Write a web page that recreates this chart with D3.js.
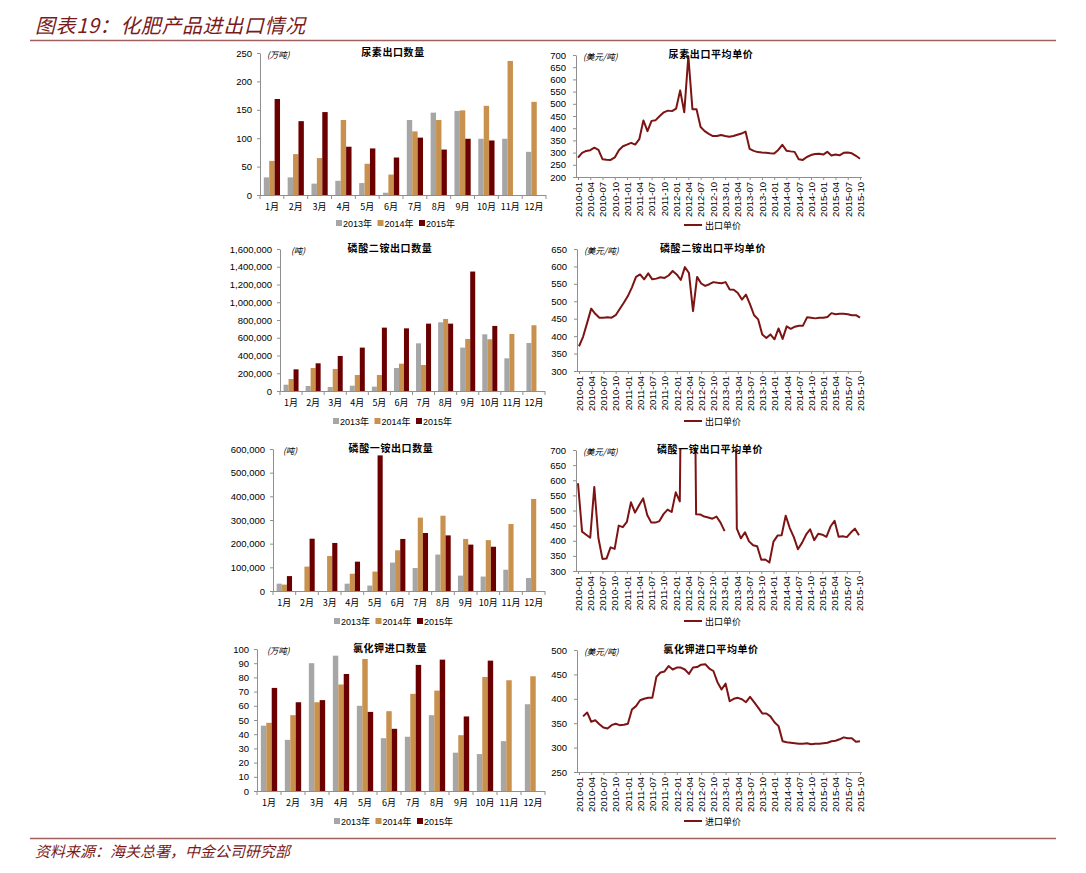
<!DOCTYPE html>
<html><head><meta charset="utf-8">
<script src="https://cdn.jsdelivr.net/npm/d3@7"></script>
<style>body{margin:0;background:#fff} svg{display:block}</style>
</head><body><svg id="c" width="1086" height="873"></svg>
<script>
// ---------- data ----------
const monthCats = ["1月","2月","3月","4月","5月","6月","7月","8月","9月","10月","11月","12月"];
const yearNames = ["2013年","2014年","2015年"];

const ureaQty2013 = [31,31,20,25,21,4,132,145,148,99,99,76];
const ureaQty2014 = [60,72,65,132,55,36,112,132,149,157,236,164];
const ureaQty2015 = [169,130,146,85,82,66,101,80,99,96,null,null];

const dapQty2013 = [71000,56000,45000,60000,49000,259000,537000,774000,489000,639000,368000,541000];
const dapQty2014 = [135000,259000,248000,180000,180000,308000,293000,812000,586000,583000,643000,741000];
const dapQty2015 = [244000,312000,395000,489000,714000,706000,759000,759000,1346000,733000,null,null];

const mapQty2013 = [31000,null,null,31000,23000,120000,97000,154000,65000,61000,90000,55000];
const mapQty2014 = [27000,103000,148000,73000,82000,172000,310000,318000,220000,215000,283000,389000];
const mapQty2015 = [63000,221000,203000,124000,573000,220000,245000,235000,196000,187000,null,null];

const kclQty2013 = [46,36,90,95.3,60,37.2,38.2,53.4,27,26,35.1,61.1];
const kclQty2014 = [48,53.4,62.5,75,93,56.2,68.4,70.7,39.3,80.3,78,80.8];
const kclQty2015 = [72.6,62.5,64,82.4,55.7,43.8,88.8,92.5,52.5,91.8,null,null];

// monthly categories 2010-01 .. 2015-10
const priceMonths = d3.range(70).map(i => `${2010 + Math.floor(i / 12)}-${String(i % 12 + 1).padStart(2, "0")}`);
const priceTickLabels = priceMonths.filter((m, i) => i % 3 === 0);

const ureaPrice = [279,299,307,310,320,311,273,271,270,280,
  310,326,333,340,333,355,432,388,430,433,
  450,465,472,470,480,555,465,695,478,478,
  405,388,377,368,368,372,368,365,368,373,
  378,386,315,307,302,300,299,297,296,311,
  332,308,305,303,273,270,282,290,294,295,
  292,303,288,292,289,299,300,297,287,275];

const dapPrice = [371,398,438,479,464,453,453,454,453,460,
  478,496,515,540,570,577,563,580,563,565,
  569,567,574,587,577,561,598,581,472,570,
  551,544,549,555,553,552,555,534,533,524,
  505,519,491,460,448,405,395,405,391,422,
  392,428,421,427,430,430,454,453,451,453,
  453,455,466,463,464,464,463,460,460,453];

const mapPrice = [590,430,420,410,578,410,340,341,378,373,
  450,445,462,527,493,517,540,485,460,460,
  465,488,503,495,560,530,1850,1700,1900,488,
  487,480,477,473,480,460,432,null,1900,440,
  408,428,398,385,382,337,338,328,397,417,
  418,483,442,412,372,393,420,438,402,423,
  420,413,447,466,413,415,412,427,440,418];

const kclPrice = [null,364,372,353,356,348,341,339,346,349,
  346,347,349,378,385,397,400,402,402,445,
  454,456,467,460,464,464,460,451,464,465,
  470,471,462,457,434,419,431,395,400,402,
  399,393,404,393,382,370,370,364,352,344,
  313,311,310,309,308,308,309,307,308,308,
  309,310,313,314,317,321,319,319,312,313];

// ---------- styles ----------
const barColors = ["#a6a6a6", "#c8914d", "#6b0000"];
const lineColor = "#7d1414";
const axisColor = "#8f8f8f";
const titleRed = "#7a1a1a";
const fontNum = "'Liberation Sans', Arial, sans-serif";
const fontCJK = "'Noto Sans CJK SC', sans-serif";

const svg = d3.select("#c");

// page header / footer
svg.append("text").attr("x", 35).attr("y", 33)
  .attr("font-family", fontCJK).attr("font-size", 20).attr("font-style", "italic")
  .attr("letter-spacing", 0.6)
  .attr("fill", titleRed).text("图表19：化肥产品进出口情况");
svg.append("line").attr("x1", 30).attr("x2", 1056).attr("y1", 40.5).attr("y2", 40.5)
  .attr("stroke", "#a06060").attr("stroke-width", 1.5);
svg.append("line").attr("x1", 30).attr("x2", 1056).attr("y1", 838.5).attr("y2", 838.5)
  .attr("stroke", "#a06060").attr("stroke-width", 1.5);
svg.append("text").attr("x", 35).attr("y", 857)
  .attr("font-family", fontCJK).attr("font-size", 15).attr("font-style", "italic")
  .attr("fill", titleRed).text("资料来源：海关总署，中金公司研究部");

function styleAxis(g) {
  g.selectAll("path,line").attr("stroke", axisColor);
  g.selectAll("text").attr("font-family", fontNum).attr("font-size", 9.5).attr("fill", "#000");
}

function barChart(o) {
  const g = svg.append("g");
  const step = (o.right - o.left) / monthCats.length;
  const x0 = d3.scaleBand().domain(monthCats).range([o.left, o.right]).paddingInner(0.32).paddingOuter(0.16);
  const x1 = d3.scaleBand().domain(d3.range(o.series.length)).range([0, x0.bandwidth()]);
  const y = d3.scaleLinear().domain([0, o.max]).range([o.bottom, o.top]);

  // bars
  o.series.forEach((s, k) => {
    g.append("g").selectAll("rect").data(s.map((v, i) => ({ v, i })).filter(d => d.v != null))
      .join("rect")
      .attr("x", d => x0(monthCats[d.i]) + x1(k))
      .attr("width", x1.bandwidth())
      .attr("y", d => y(d.v))
      .attr("height", d => y(0) - y(d.v))
      .attr("fill", barColors[k]);
  });

  // y axis
  const ya = g.append("g").attr("transform", `translate(${o.left},0)`)
    .call(d3.axisLeft(y).tickValues(d3.range(0, o.max + o.step / 2, o.step))
      .tickSize(3).tickPadding(5).tickFormat(o.fmt).tickSizeOuter(0));
  styleAxis(ya);

  // x axis
  g.append("line").attr("x1", o.left).attr("x2", o.right).attr("y1", o.bottom + 0.5).attr("y2", o.bottom + 0.5)
    .attr("stroke", axisColor);
  g.append("g").selectAll("line").data(d3.range(monthCats.length + 1)).join("line")
    .attr("x1", i => o.left + i * step).attr("x2", i => o.left + i * step)
    .attr("y1", o.bottom).attr("y2", o.bottom + 4).attr("stroke", axisColor);
  g.append("g").selectAll("text").data(monthCats).join("text")
    .attr("x", d => x0(d) + x0.bandwidth() / 2).attr("y", o.bottom + 15)
    .attr("text-anchor", "middle").attr("font-family", fontCJK).attr("font-size", 9)
    .text(d => d);

  // title & unit
  g.append("text").attr("x", o.titleX).attr("y", o.top + 3).attr("text-anchor", "middle")
    .attr("font-family", fontCJK).attr("font-size", 10).attr("font-weight", "bold")
    .attr("letter-spacing", 0.6).text(o.title);
  g.append("text").attr("x", o.unitX).attr("y", o.top + 5)
    .attr("font-family", fontCJK).attr("font-size", 8.5).attr("font-style", "italic").text(o.unit);

  // legend
  const ly = o.bottom + o.legendDy;
  yearNames.forEach((n, k) => {
    const lx = o.legendX + k * 41.5;
    g.append("rect").attr("x", lx).attr("y", ly - 3).attr("width", 6).attr("height", 6).attr("fill", barColors[k]);
    g.append("text").attr("x", lx + 7).attr("y", ly + 3.5)
      .attr("font-family", fontNum + ",'Noto Sans CJK SC'").attr("font-size", 9).text(n);
  });
}

let clipId = 0;
function lineChart(o) {
  const g = svg.append("g");
  const x = d3.scalePoint().domain(priceMonths).range([o.left + 2, o.right - 2]);
  const y = d3.scaleLinear().domain([o.min, o.max]).range([o.bottom, o.top]);
  const id = "clip" + (clipId++);
  g.append("clipPath").attr("id", id).append("rect")
    .attr("x", o.left).attr("y", o.top - 1).attr("width", o.right - o.left).attr("height", o.bottom - o.top + 1);

  const ya = g.append("g").attr("transform", `translate(${o.left},0)`)
    .call(d3.axisLeft(y).tickValues(d3.range(o.min, o.max + 1, 50)).tickSize(3).tickPadding(7).tickSizeOuter(0));
  styleAxis(ya);

  const xa = g.append("g").attr("transform", `translate(0,${o.bottom})`)
    .call(d3.axisBottom(x).tickValues(priceTickLabels).tickSize(3).tickPadding(4).tickSizeOuter(0));
  xa.select(".domain").attr("d", `M${o.left},0.5H${o.right}`);
  styleAxis(xa);
  xa.selectAll("text").attr("text-anchor", "end").attr("transform", "rotate(-90)")
    .attr("x", -5).attr("y", 0).attr("dy", "0.35em");

  const line = d3.line().defined(d => d != null).x((d, i) => x(priceMonths[i])).y(d => y(d));
  g.append("path").attr("clip-path", `url(#${id})`).attr("d", line(o.values))
    .attr("fill", "none").attr("stroke", lineColor).attr("stroke-width", 2).attr("stroke-linejoin", "round");

  g.append("text").attr("x", o.titleX).attr("y", o.top + 3).attr("text-anchor", "middle")
    .attr("font-family", fontCJK).attr("font-size", 10).attr("font-weight", "bold")
    .attr("letter-spacing", 0.6).text(o.title);
  g.append("text").attr("x", o.left + 7).attr("y", o.top + 5)
    .attr("font-family", fontCJK).attr("font-size", 8.5).attr("font-style", "italic").text("(美元/吨)");

  const ly = o.bottom + o.legendDy;
  g.append("line").attr("x1", 684).attr("x2", 702).attr("y1", ly).attr("y2", ly)
    .attr("stroke", lineColor).attr("stroke-width", 2);
  g.append("text").attr("x", 705).attr("y", ly + 3.5).attr("font-family", fontCJK).attr("font-size", 9)
    .text(o.legend);
}

const fmtComma = d3.format(",");
barChart({ left: 260, right: 546, top: 53, bottom: 195, max: 250, step: 50, fmt: d3.format("d"),
  series: [ureaQty2013, ureaQty2014, ureaQty2015], title: "尿素出口数量", titleX: 393,
  unit: "(万吨)", unitX: 267, legendX: 336, legendDy: 28 });
barChart({ left: 280, right: 545, top: 249, bottom: 391, max: 1600000, step: 200000, fmt: fmtComma,
  series: [dapQty2013, dapQty2014, dapQty2015], title: "磷酸二铵出口数量", titleX: 390,
  unit: "(吨)", unitX: 291, legendX: 333, legendDy: 30 });
barChart({ left: 273, right: 545, top: 449, bottom: 591, max: 600000, step: 100000, fmt: fmtComma,
  series: [mapQty2013, mapQty2014, mapQty2015], title: "磷酸一铵出口数量", titleX: 391,
  unit: "(吨)", unitX: 283, legendX: 334, legendDy: 30 });
barChart({ left: 257, right: 545, top: 649, bottom: 791, max: 100, step: 10, fmt: d3.format("d"),
  series: [kclQty2013, kclQty2014, kclQty2015], title: "氯化钾进口数量", titleX: 390,
  unit: "(万吨)", unitX: 267, legendX: 334, legendDy: 30 });

lineChart({ left: 576, right: 862, top: 55, bottom: 177, min: 200, max: 700, values: ureaPrice,
  title: "尿素出口平均单价", titleX: 711, legend: "出口单价", legendDy: 48 });
lineChart({ left: 577, right: 862, top: 249, bottom: 371, min: 300, max: 650, values: dapPrice,
  title: "磷酸二铵出口平均单价", titleX: 713, legend: "出口单价", legendDy: 50 });
lineChart({ left: 576, right: 861, top: 450, bottom: 571, min: 300, max: 700, values: mapPrice,
  title: "磷酸一铵出口平均单价", titleX: 710, legend: "出口单价", legendDy: 50 });
lineChart({ left: 577, right: 862, top: 650, bottom: 772, min: 250, max: 500, values: kclPrice,
  title: "氯化钾进口平均单价", titleX: 711, legend: "进口单价", legendDy: 49 });
</script></body></html>
